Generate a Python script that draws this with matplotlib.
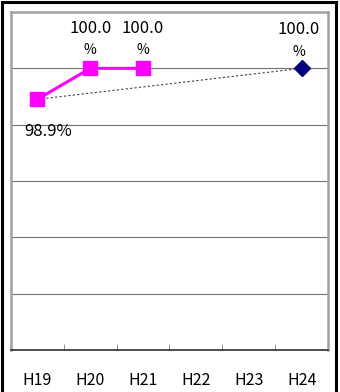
import matplotlib.pyplot as plt
from matplotlib.patches import Rectangle

plt.rcParams["font.family"] = ["Noto Sans CJK JP", "DejaVu Sans"]

years = ["H19", "H20", "H21", "H22", "H23", "H24"]
actual = [98.9, 100.0, 100.0]          # H19-H21
target = [100.0]                       # H24
actual_idx = [0, 1, 2]
target_idx = [5]

fig = plt.figure(figsize=(3.4, 3.92), dpi=100)
ax = fig.add_axes([11 / 340, 42 / 392, 317 / 340, 338 / 392])

# 外枠
fig.patches.append(Rectangle((2 / 340, -0.05), 334 / 340, 1.05 - 2 / 392,
                             transform=fig.transFigure, fill=False,
                             edgecolor="black", linewidth=2.2))

ax.set_xlim(-0.5, 5.5)
ax.set_ylim(90, 102)
for y in range(92, 102, 2):
    ax.axhline(y, color="#707070", linewidth=0.8, zorder=0)

# 点線 (H19 -> H24)
ax.plot([actual_idx[0], target_idx[0]], [actual[0], target[0]],
        linestyle=(0, (2, 2)), color="#404040", linewidth=0.8, zorder=2)
ax.plot(actual_idx, actual, color="#ff00ff", linewidth=2.2, marker="s",
        markersize=10.5, zorder=3)
ax.plot(target_idx, target, linestyle="none", marker="D", color="#000080",
        markersize=8, zorder=4)

# ラベル
for i, v in zip(actual_idx[1:], actual[1:]):
    ax.annotate(f"{v:.1f}", (i, v), xytext=(0, 29), textcoords="offset points",
                ha="center", va="center", fontsize=12)
    ax.annotate("%", (i, v), xytext=(0, 13), textcoords="offset points",
                ha="center", va="center", fontsize=10)
ax.annotate(f"{actual[0]:.1f}%", (actual_idx[0], actual[0]), xytext=(8, -23),
            textcoords="offset points", ha="center", va="center", fontsize=12)
ax.annotate(f"{target[0]:.1f}", (target_idx[0], target[0]), xytext=(-2, 28),
            textcoords="offset points", ha="center", va="center", fontsize=12)
ax.annotate("%", (target_idx[0], target[0]), xytext=(-2, 12),
            textcoords="offset points", ha="center", va="center", fontsize=10)

ax.set_yticks([])
ax.set_xticks(range(len(years)))
ax.set_xticklabels(years, fontsize=11.5)
ax.tick_params(axis="x", length=0, pad=16)
ax.set_xticks([i + 0.5 for i in range(5)], minor=True)
ax.tick_params(axis="x", which="minor", direction="in", length=4,
               color="#808080")

for side in ["left", "right", "top"]:
    ax.spines[side].set_color("#a0a0a0")
    ax.spines[side].set_linewidth(1.8)
ax.spines["bottom"].set_color("#303030")
ax.spines["bottom"].set_linewidth(1.2)

fig.savefig("out.png", dpi=100)
